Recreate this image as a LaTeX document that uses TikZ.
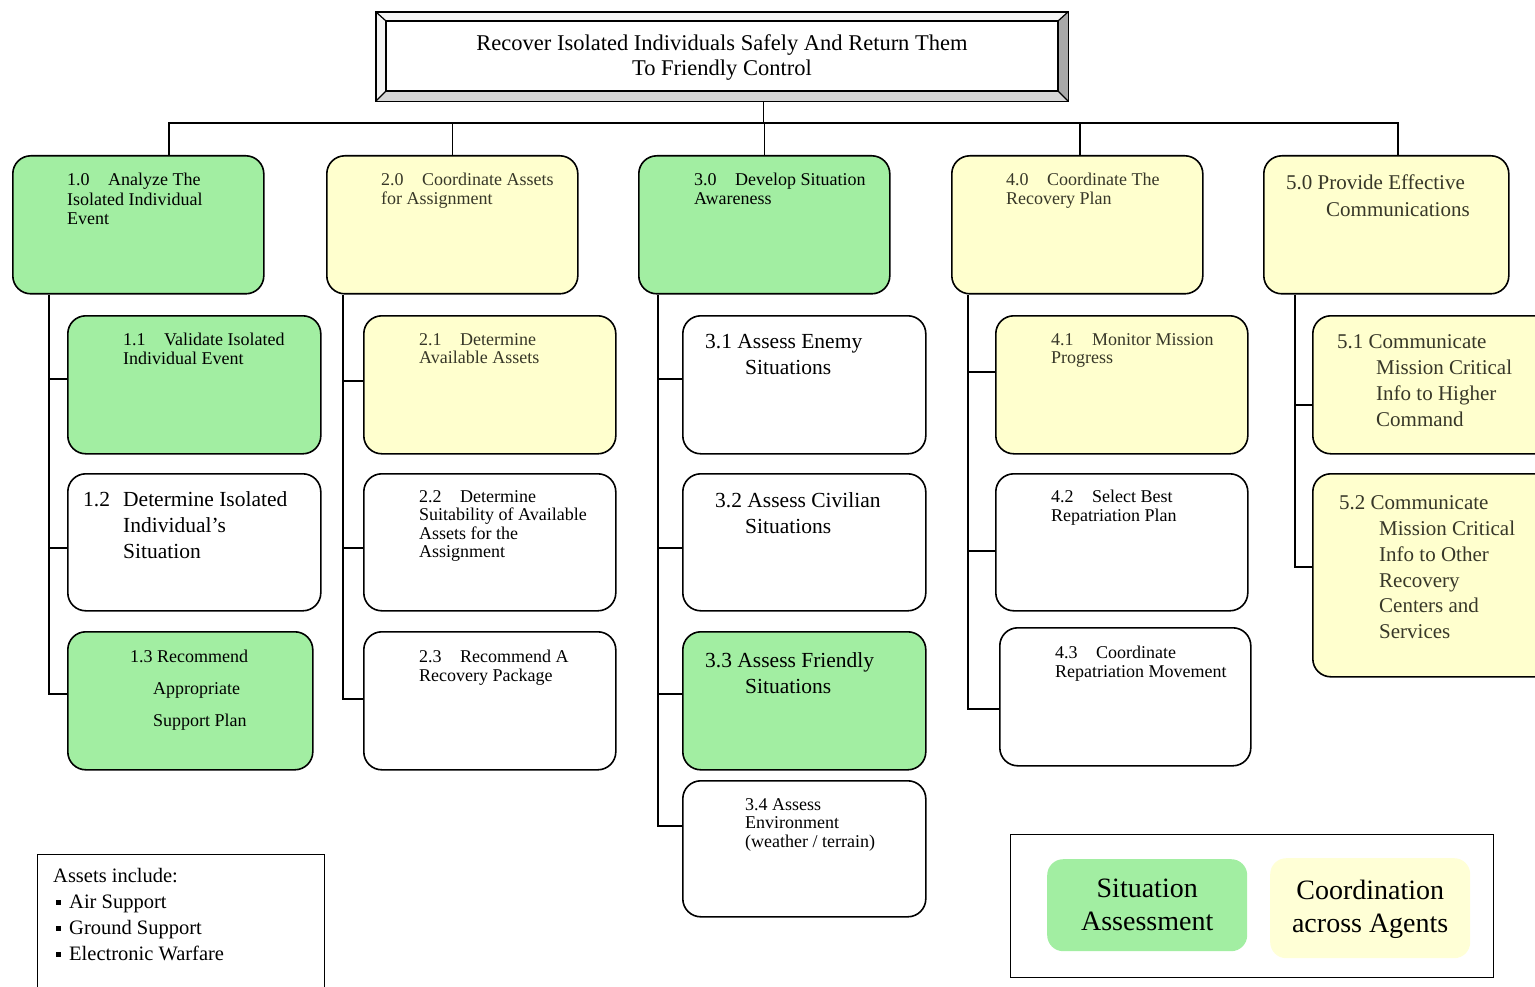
\documentclass[tikz,border=0pt]{standalone}
\usepackage{fontspec}
\setmainfont{Liberation Serif}
\definecolor{sagreen}{RGB}{162,238,162}
\definecolor{coyellow}{RGB}{255,255,206}
\definecolor{lgyellow}{RGB}{255,255,214}
\definecolor{bevlight}{RGB}{245,245,245}
\definecolor{bevmid}{RGB}{214,214,214}
\definecolor{bevdark}{RGB}{168,168,168}
\definecolor{ytext}{RGB}{55,55,40}
\newcommand\tn[1]{\makebox[41pt][l]{#1}}
\newcommand\sqb{\hspace*{3pt}\raisebox{4pt}{\rule{5pt}{5pt}}\hspace{8pt}}
\begin{document}
\begin{tikzpicture}[x=1pt,y=-1pt,
  wh/.style 2 args={minimum width=#1pt,minimum height=#2pt},
  box/.style={draw=black,line width=1.6pt,rounded corners=18pt,anchor=north west,inner sep=0pt},
  gbox/.style={box,fill=sagreen},
  ybox/.style={box,fill=coyellow},
  wbox/.style={box,fill=white},
  conn/.style={draw=black,line width=1.4pt},
  small/.style={anchor=north west,inner sep=0pt,align=left,font=\fontsize{18}{18.5}\selectfont},
  mid/.style={anchor=north west,inner sep=0pt,align=left,font=\fontsize{21.5}{26}\selectfont},
  legtext/.style={align=center,font=\fontsize{28}{33}\selectfont},
]
\useasboundingbox (0,0) rectangle (1535,987);
\clip (0,0) rectangle (1535,987);

% ---------- root box with bevel ----------
\node[anchor=north west,inner sep=0pt,wh={692}{89}] (root) at (376,12) {};
\fill[bevlight] (376,12) -- (1068,12) -- (1058,21) -- (386,21) -- cycle;
\fill[bevlight] (376,12) -- (386,21) -- (386,91) -- (376,101) -- cycle;
\fill[bevmid] (376,101) -- (386,91) -- (1058,91) -- (1068,101) -- cycle;
\fill[bevdark] (1068,12) -- (1058,21) -- (1058,91) -- (1068,101) -- cycle;
\draw[line width=1.6pt] (root.north west) rectangle (root.south east);
\draw[line width=1.2pt] (386,21) rectangle (1058,91);
\draw[line width=1.2pt] (376,12) -- (386,21) (1068,12) -- (1058,21) (376,101) -- (386,91) (1068,101) -- (1058,91);
\node[align=center,font=\fontsize{22.5}{25}\selectfont] (roottext) at (722,57.5) {Recover Isolated Individuals Safely And Return Them\\To Friendly Control};

% ---------- level 1 boxes ----------
\node[gbox,wh={251}{138}] (n10) at (12,155) {};
\node[ybox,wh={251}{138}] (n20) at (326,155) {};
\node[gbox,wh={251}{138}] (n30) at (638,155) {};
\node[ybox,wh={251}{138}] (n40) at (951,155) {};
\node[ybox,wh={245}{138}] (n50) at (1263,155) {};

% ---------- children ----------
\node[gbox,wh={253}{138}] (n11) at (67,315) {};
\node[wbox,wh={253}{137}] (n12) at (67,473) {};
\node[gbox,wh={245}{138}] (n13) at (67,631) {};
\node[ybox,wh={252}{138}] (n21) at (363,315) {};
\node[wbox,wh={252}{137}] (n22) at (363,473) {};
\node[wbox,wh={252}{138}] (n23) at (363,631) {};
\node[wbox,wh={243}{138}] (n31) at (682,315) {};
\node[wbox,wh={243}{137}] (n32) at (682,473) {};
\node[gbox,wh={243}{138}] (n33) at (682,631) {};
\node[wbox,wh={243}{136}] (n34) at (682,780) {};
\node[ybox,wh={252}{138}] (n41) at (995,315) {};
\node[wbox,wh={252}{137}] (n42) at (995,473) {};
\node[wbox,wh={251}{138}] (n43) at (999,627) {};
\node[ybox,wh={240}{138}] (n51) at (1312,315) {};
\node[ybox,wh={240}{203}] (n52) at (1312,473) {};

% ---------- bus from root ----------
\coordinate (bus) at (0,123);
\coordinate (d0) at ([xshift=41.5pt]root.south);
\coordinate (d1) at ([xshift=30.5pt]n10.north);
\coordinate (d5) at ([xshift=11.5pt]n50.north);
\draw[conn] (d0) -- (d0 |- bus);
\draw[conn] (d1) -- (d1 |- bus) -- (d5 |- bus) -- (d5);
\draw[conn] (n20.north) -- (n20.north |- bus);
\draw[conn] (n30.north) -- (n30.north |- bus);
\draw[conn] ([xshift=2.5pt]n40.north) -- ([xshift=2.5pt]n40.north |- bus);

% ---------- spines ----------
\coordinate (s1) at ([xshift=-89.5pt]n10.south);
\coordinate (s2) at ([xshift=-109.5pt]n20.south);
\coordinate (s3) at ([xshift=-106.5pt]n30.south);
\coordinate (s4) at ([xshift=-109.5pt]n40.south);
\coordinate (s5) at ([xshift=-91.5pt]n50.south);

\coordinate (c11) at ([yshift=6pt]n11.west);
\coordinate (c12) at ([yshift=-5.5pt]n12.west);
\coordinate (c13) at ([yshift=7pt]n13.west);
\coordinate (c21) at ([yshift=4pt]n21.west);
\coordinate (c22) at ([yshift=-5.5pt]n22.west);
\coordinate (c23) at ([yshift=2pt]n23.west);
\coordinate (c31) at ([yshift=6pt]n31.west);
\coordinate (c32) at ([yshift=-5.5pt]n32.west);
\coordinate (c33) at ([yshift=7pt]n33.west);
\coordinate (c34) at ([yshift=23pt]n34.west);
\coordinate (c41) at ([yshift=13pt]n41.west);
\coordinate (c42) at ([yshift=-8.5pt]n42.west);
\coordinate (c43) at ([yshift=-12pt]n43.west);
\coordinate (c51) at ([yshift=-20pt]n51.west);
\coordinate (c52) at ([yshift=8.5pt]n52.west);

\draw[conn] (s1) |- (c13);
\draw[conn] (c11 -| s1) -- (c11);
\draw[conn] (c12 -| s1) -- (c12);
\draw[conn] (s2) |- (c23);
\draw[conn] (c21 -| s2) -- (c21);
\draw[conn] (c22 -| s2) -- (c22);
\draw[conn] (s3) |- (c34);
\draw[conn] (c31 -| s3) -- (c31);
\draw[conn] (c32 -| s3) -- (c32);
\draw[conn] (c33 -| s3) -- (c33);
\draw[conn] (s4) |- (c43);
\draw[conn] (c41 -| s4) -- (c41);
\draw[conn] (c42 -| s4) -- (c42);
\draw[conn] (s5) |- (c52);
\draw[conn] (c51 -| s5) -- (c51);

% ---------- texts ----------
\node[small,font=\fontsize{18}{19.5}\selectfont] (t10) at (67,173) {\tn{1.0}Analyze The\\Isolated Individual\\Event};
\node[small,text=ytext] (t20) at (381,173) {\tn{2.0}Coordinate Assets\\for Assignment};
\node[small] (t30) at (694,173) {\tn{3.0}Develop Situation\\Awareness};
\node[small,text=ytext] (t40) at (1006,173) {\tn{4.0}Coordinate The\\Recovery Plan};
\node[mid,font=\fontsize{21}{27}\selectfont,text=ytext] (t50) at (1286,175) {5.0 Provide Effective\\\hspace*{40pt}Communications};

\node[small] (t11) at (123,333) {\tn{1.1}Validate Isolated\\Individual Event};
\node[mid] (t12) at (83,491.5) {\makebox[40pt][l]{1.2}Determine Isolated\\\hspace*{40pt}Individual’s\\\hspace*{40pt}Situation};
\node[small,font=\fontsize{18}{32}\selectfont] (t13) at (130,650) {1.3 Recommend\\\hspace*{23pt}Appropriate\\\hspace*{23pt}Support Plan};

\node[small,text=ytext] (t21) at (419,333) {\tn{2.1}Determine\\Available Assets};
\node[small] (t22) at (419,490) {\tn{2.2}Determine\\Suitability of Available\\Assets for the\\Assignment};
\node[small] (t23) at (419,650) {\tn{2.3}Recommend A\\Recovery Package};

\node[mid] (t31) at (705,334.5) {3.1 Assess Enemy\\\hspace*{40pt}Situations};
\node[mid] (t32) at (715,492.5) {3.2 Assess Civilian\\\hspace*{30pt}Situations};
\node[mid] (t33) at (705,652.5) {3.3 Assess Friendly\\\hspace*{40pt}Situations};
\node[small] (t34) at (745,798) {3.4 Assess\\Environment\\(weather / terrain)};

\node[small,text=ytext] (t41) at (1051,333) {\tn{4.1}Monitor Mission\\Progress};
\node[small] (t42) at (1051,490) {\tn{4.2}Select Best\\Repatriation Plan};
\node[small] (t43) at (1055,646) {\tn{4.3}Coordinate\\Repatriation Movement};

\node[mid,font=\fontsize{21}{26}\selectfont,text=ytext] (t51) at (1337,334.5) {5.1 Communicate\\\hspace*{39pt}Mission Critical\\\hspace*{39pt}Info to Higher\\\hspace*{39pt}Command};
\node[mid,font=\fontsize{21}{25.8}\selectfont,text=ytext] (t52) at (1339,495.5) {5.2 Communicate\\\hspace*{40pt}Mission Critical\\\hspace*{40pt}Info to Other\\\hspace*{40pt}Recovery\\\hspace*{40pt}Centers and\\\hspace*{40pt}Services};

% ---------- legend 1 ----------
\node[draw=black,line width=1.4pt,anchor=north west,inner sep=0pt,wh={287}{160}] (leg1) at (37,854) {};
\node[anchor=north west,inner sep=0pt,align=left,font=\fontsize{20.5}{26}\selectfont] (leg1text) at (53,868.5) {Assets include:\\\sqb Air Support\\\sqb Ground Support\\\sqb Electronic Warfare};

% ---------- legend 2 ----------
\node[draw=black,line width=1.4pt,anchor=north west,inner sep=0pt,wh={483}{143}] (leg2) at (1010,834) {};
\node[anchor=north west,fill=sagreen,rounded corners=16pt,inner sep=0pt,wh={200}{92}] (lgg) at (1047,859) {};
\node[anchor=north west,fill=lgyellow,rounded corners=16pt,inner sep=0pt,wh={200}{100}] (lgy) at (1270,858) {};
\node[legtext] (lggt) at (lgg.center) {Situation\\Assessment};
\node[legtext] (lgyt) at ([yshift=-1pt]lgy.center) {Coordination\\across Agents};
\end{tikzpicture}
\end{document}
